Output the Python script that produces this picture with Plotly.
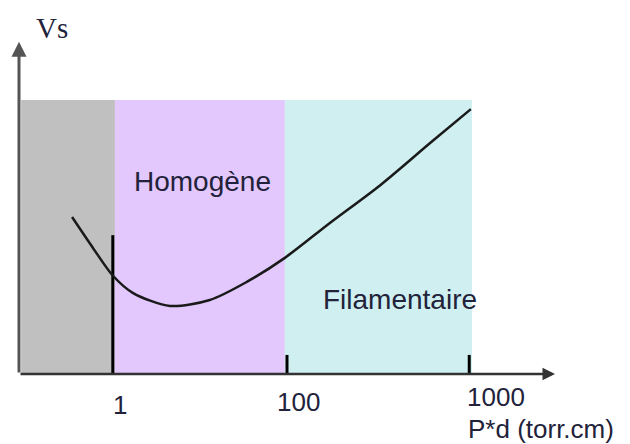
import plotly.graph_objects as go

# schematic units: x and y both 0..100 along the drawn axes
region_names = ['grey', 'Homogène', 'Filamentaire']
region_x0 = [0.4, 17.9, 49.6]
region_x1 = [17.9, 49.6, 84.5]
region_top = 83.3
region_colors = ['#c0c0c0', '#e2c8fd', '#cfeff0']

# Paschen-like curve
curve_x = [9.9, 13.8, 17.4, 21.3, 28.2, 35.6, 42.5, 49.6, 58.0, 67.4, 76.7, 84.3]
curve_y = [47.7, 38.3, 30.1, 24.6, 20.7, 22.5, 28.0, 35.3, 45.9, 57.4, 70.2, 80.5]

# vertical markers on the x axis
marker_x = [17.5, 50.0, 84.0]
marker_top = [42.2, 5.8, 5.8]

tick_labels = ['1', '100', '1000']
tick_label_x = [18.8, 52.2, 89.0]
tick_label_y = [-9.4, -8.6, -7.0]

region_labels = ['Homogène', 'Filamentaire']
region_label_x = [34.3, 71.1]
region_label_y = [58.4, 22.5]

fig = go.Figure()

for x0, x1, c in zip(region_x0, region_x1, region_colors):
    fig.add_shape(type='rect', x0=x0, x1=x1, y0=0, y1=region_top,
                  fillcolor=c, line_width=0, layer='below')

for mx, mt in zip(marker_x, marker_top):
    fig.add_trace(go.Scatter(x=[mx, mx], y=[0, mt], mode='lines',
                             line=dict(color='black', width=3), showlegend=False))

fig.add_trace(go.Scatter(x=curve_x, y=curve_y, mode='lines',
                         line=dict(color='#1a1a1a', width=2.5, shape='spline', smoothing=0.8),
                         showlegend=False))

# axes drawn as arrows
fig.add_annotation(x=0, y=101, ax=0, ay=0, xref='x', yref='y', axref='x', ayref='y',
                   showarrow=True, arrowhead=2, arrowsize=1, arrowwidth=3, arrowcolor='#555555', text='')
fig.add_annotation(x=100, y=0, ax=0, ay=0, xref='x', yref='y', axref='x', ayref='y',
                   showarrow=True, arrowhead=2, arrowsize=1, arrowwidth=2.5, arrowcolor='#333333', text='')

lab_font = dict(family='Liberation Sans, Arial', size=28, color='#22223a')
tick_font = dict(family='Liberation Sans, Arial', size=26, color='#22223a')
# labels outside the axes: paper coords (axes span 0..100 -> paper 0..1)
for t, x, y in zip(tick_labels, tick_label_x, tick_label_y):
    fig.add_annotation(x=x / 100, y=y / 100, xref='paper', yref='paper',
                       xanchor='center', yanchor='middle',
                       text=t, showarrow=False, font=tick_font)
for t, x, y in zip(region_labels, region_label_x, region_label_y):
    fig.add_annotation(x=x, y=y, text=t, showarrow=False, font=lab_font)

fig.add_annotation(x=0.974, y=-0.166, xref='paper', yref='paper', xanchor='center', yanchor='middle',
                   text='P*d (torr.cm)', showarrow=False, font=tick_font)
fig.add_annotation(x=0.062, y=1.052, xref='paper', yref='paper', xanchor='center', yanchor='middle',
                   text='Vs', showarrow=False,
                   font=dict(family='Liberation Serif, Times New Roman', size=29, color='#22223a'))

fig.update_xaxes(range=[0, 100], visible=False)
fig.update_yaxes(range=[0, 100], visible=False)
# page body has an 8px margin
fig.update_layout(width=622, height=436, margin=dict(l=11, r=75, t=37, b=70),
                  plot_bgcolor='white', paper_bgcolor='white')

fig.write_html("out.html")
